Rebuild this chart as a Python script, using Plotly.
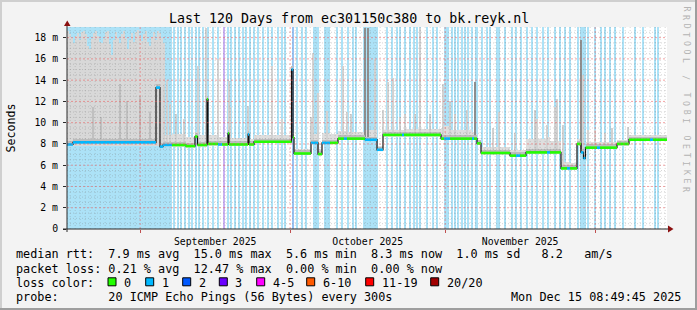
import plotly.graph_objects as go
from datetime import datetime, timedelta

# ---------------- data ----------------
END = datetime(2025, 12, 15, 8, 49, 45)
START = END - timedelta(days=120)
SPAN_DAYS = 120

# median rtt (ms) as step segments: start day (from START), value, loss count
med_start = [0.0, 1.2, 17.8, 18.6, 19.2, 21.0, 23.8, 25.6, 26.1, 28.0, 28.2, 30.2, 31.0, 32.2, 32.4,
             36.2, 36.4, 37.4, 44.9, 45.2, 45.4, 48.8, 50.2, 51.0, 52.6, 54.2, 55.4, 56.0, 59.6, 62.0,
             63.2, 67.0, 67.4, 74.8, 75.4, 76.6, 81.0, 81.4, 82.0, 82.8, 88.6, 89.8, 90.6, 91.8, 96.0,
             96.6, 98.8, 100.0, 100.6, 102.0, 102.8, 103.3, 103.7, 106.0, 106.6, 110.0, 112.4, 116.6, 117.2]
med_value = [7.95, 8.15, 13.3, 7.75, 7.9, 7.9, 7.8, 8.7, 7.9, 12.2, 8.0, 7.95, 7.95, 9.0, 7.95,
             8.9, 7.95, 8.2, 15.0, 8.6, 7.1, 8.1, 7.05, 8.1, 8.1, 8.5, 8.5, 8.5, 8.4, 7.45,
             8.85, 8.85, 8.85, 8.5, 8.5, 8.5, 8.5, 8.5, 8.05, 7.15, 6.9, 6.9, 6.9, 7.2, 7.2,
             7.2, 5.7, 5.7, 5.7, 8.0, 7.2, 6.65, 7.65, 7.65, 7.65, 8.0, 8.4, 8.4, 8.4]
med_loss = [1, 1, 1, 1, 1, 0, 0, 0, 0, 0, 0, 1, 0, 0, 0,
            1, 0, 0, 1, 0, 0, 1, 0, 1, 0, 0, 1, 0, 1, 1,
            0, 1, 0, 0, 1, 0, 1, 0, 0, 0, 0, 1, 0, 0, 1,
            0, 0, 1, 0, 0, 1, 1, 0, 1, 0, 0, 0, 1, 0]
# upper edge of the smoke haze around the median, per segment (ms)
smoke_top = [8.8, 9.0, 13.6, 8.6, 8.8, 8.9, 8.7, 9.1, 8.8, 12.4, 8.8, 8.7, 8.7, 9.3, 8.6,
             9.2, 8.5, 8.8, 15.2, 9.0, 7.5, 8.9, 7.5, 9.0, 8.9, 9.2, 9.2, 9.1, 9.3, 7.8,
             9.3, 9.3, 9.4, 9.5, 9.7, 9.3, 9.1, 8.9, 8.4, 7.7, 7.4, 7.4, 7.4, 8.5, 8.7,
             8.3, 6.3, 6.3, 6.2, 8.5, 7.9, 7.4, 8.2, 8.2, 8.2, 8.4, 8.8, 8.8, 8.8]

# heavy smoke in the first weeks: top of smoke (ms) every 0.4 day from day 0
heavy_smoke_step = 0.4
heavy_smoke_base = 7.8
heavy_smoke_top = [18.6, 18.3, 18.0, 17.5, 18.2, 18.4, 17.8, 18.5, 18.6, 18.3, 17.2, 16.9, 17.9, 18.4,
                   18.6, 18.2, 17.6, 17.5, 17.9, 18.5, 18.6, 17.4, 16.4, 17.8, 18.5, 18.0, 17.5, 18.3,
                   18.6, 18.0, 16.9, 17.8, 18.4, 17.6, 18.5, 18.7, 18.2, 17.7, 18.3, 18.6, 17.6, 17.2,
                   18.1, 18.5, 17.8, 18.6, 18.4, 18.0, 17.5]

# individual smoke spikes: day, top (ms), shade (0 light, 1 mid, 2 dark)
spike_day = [5.2, 6.8, 10.6, 12.0, 14.6, 16.6, 19.4, 20.0, 20.6, 21.8, 23.4, 26.2, 27.8, 30.2, 32.4,
             32.6, 36.2, 41.0, 43.0, 48.8, 49.2, 50.2, 52.0, 55.2, 56.0, 56.8, 59.6, 60.2, 61.6,
             63.2, 64.2, 65.2, 66.6, 67.6, 69.6, 70.6, 72.6, 75.2, 76.6, 77.6, 80.0, 81.6, 85.2,
             86.4, 89.6, 93.6, 94.0, 96.0, 97.6, 98.0, 99.2, 102.8, 103.2, 104.2, 105.6, 107.6,
             109.0, 112.2]
spike_top = [11.5, 10.5, 13.6, 12.0, 12.5, 11.0, 13.5, 14.0, 11.8, 10.8, 10.3, 15.3, 18.9, 16.0, 13.9,
             11.5, 11.6, 15.3, 10.3, 10.5, 16.6, 12.8, 11.1, 15.3, 11.0, 10.8, 18.9, 18.9, 16.0,
             11.2, 13.8, 14.2, 10.5, 10.8, 10.8, 18.9, 10.8, 13.6, 12.0, 10.8, 11.2, 13.8, 9.5,
             11.0, 9.0, 11.2, 10.3, 9.8, 11.5, 12.2, 9.8, 17.8, 14.5, 9.3, 9.3, 9.0,
             9.5, 9.6]
spike_shade = [1, 1, 1, 1, 1, 1, 0, 0, 0, 0, 0, 0, 0, 0, 0,
               0, 0, 0, 0, 0, 0, 0, 0, 0, 0, 0, 2, 2, 0,
               0, 0, 0, 0, 0, 0, 0, 0, 0, 0, 0, 0, 2, 0,
               0, 0, 0, 0, 0, 0, 0, 0, 2, 0, 0, 0, 0,
               0, 0]

# packet loss periods: centre day, duration (days), loss level
loss_day = [10.5, 21.4, 22.2, 22.8, 23.6, 24.4, 25.0, 25.8, 26.4, 27.2, 28.2, 29.2, 30.2, 31.4, 32.2,
            32.8, 33.6, 34.4, 35.2, 35.8, 36.6, 37.4, 38.2, 39.2, 40.2, 41.0, 42.2, 43.0, 43.6, 45.2,
            46.0, 47.0, 47.8, 49.7, 52.0, 54.0, 55.0, 56.2, 57.2, 57.8, 60.7, 64.0, 65.0, 66.0, 66.6,
            67.6, 68.6, 69.4, 70.0, 70.6, 72.0, 73.2, 74.0, 75.9, 77.0, 77.6, 78.2, 79.0, 79.6, 80.2,
            81.0, 81.9, 83.0, 84.0, 84.6, 86.0, 86.4, 87.6, 89.0, 89.8, 90.8, 92.0, 93.0, 94.0, 95.2,
            96.2, 97.6, 98.6, 99.6, 100.6, 102.2, 102.8, 103.2, 103.6, 104.2, 105.6, 106.8, 107.6,
            108.6, 109.6, 111.2, 113.6, 115.2, 117.6, 118.2]
loss_len = [21.0] + [0.2] * 32 + [1.2, 1.2] + [0.2] * 5 + [3.0] + [0.2] * 12 + [1.0] + [0.2] * 7 + [0.6] + [0.2] * 33
loss_level = [1] * len(loss_day)
loss_level[13] = 3   # day 31.4
loss_level[29] = 2   # day 45.2

# legend / statistics text
title_text = "Last 120 Days from ec301150c380 to bk.reyk.nl"
stat_lines = [
    "median rtt:  7.9 ms avg  15.0 ms max  5.6 ms min  8.3 ms now  1.0 ms sd   8.2   am/s",
    "packet loss: 0.21 % avg  12.47 % max  0.00 % min  0.00 % now",
    "loss color:",
    "probe:       20 ICMP Echo Pings (56 Bytes) every 300s",
]
loss_legend_labels = ["0", "1", "2", "3", "4-5", "6-10", "11-19", "20/20"]
loss_legend_colors = ["#22ff00", "#00b8ff", "#0059ff", "#6a00ff", "#ff00ff", "#ff5a00", "#ff0000", "#a10000"]
timestamp_text = "Mon Dec 15 08:49:45 2025"
watermark_text = "RRDTOOL / TOBI OETIKER"
y_tick_vals = [0, 2, 4, 6, 8, 10, 12, 14, 16, 18]
y_tick_text = ["0", "2 m", "4 m", "6 m", "8 m", "10 m", "12 m", "14 m", "16 m", "18 m"]
Y_MAX = 19.0

# ---------------- style ----------------
W, H = 697, 310
L, R, T, B = 67, 667, 27, 229       # plot area in pixels
MONO = "DejaVu Sans Mono"
MS_DAY = 86400000
LOSS_BG = {1: "#ace2f7", 2: "#98c2f3", 3: "#cbb0f3"}
LINE_COL = {0: "#22ff00", 1: "#00b8ff", 2: "#0059ff"}
SPIKE_COL = {0: "#d2d2d2", 1: "#c0c0c0", 2: "#8f8f8f"}


def t(d):
    return START + timedelta(days=d)


def px(x):
    return (x - L) / (R - L)


def py(y):
    return (B - y) / (B - T)


def med_at(d):
    v = med_value[0]
    for s, m in zip(med_start, med_value):
        if s <= d:
            v = m
    return v


fig = go.Figure()

# loss backgrounds
fig.add_trace(go.Bar(
    x=[t(d) for d in loss_day], y=[Y_MAX] * len(loss_day), base=0,
    width=[w * MS_DAY for w in loss_len],
    marker=dict(color=[LOSS_BG[k] for k in loss_level], line=dict(width=0)),
    hoverinfo="skip"))

# smoke haze
seg_end = med_start[1:] + [SPAN_DAYS]
fig.add_trace(go.Bar(
    x=[t((a + b) / 2) for a, b in zip(med_start, seg_end)],
    width=[(b - a) * MS_DAY for a, b in zip(med_start, seg_end)],
    base=[m - 0.15 for m in med_value],
    y=[top - (m - 0.15) for top, m in zip(smoke_top, med_value)],
    marker=dict(color="#dedede", line=dict(width=0)), hoverinfo="skip"))

# heavy smoke
hs_x = [t(i * heavy_smoke_step + heavy_smoke_step / 2) for i in range(len(heavy_smoke_top))]
fig.add_trace(go.Bar(
    x=hs_x, width=heavy_smoke_step * MS_DAY, base=heavy_smoke_base,
    y=[v - heavy_smoke_base for v in heavy_smoke_top],
    marker=dict(color="#d8d8d8", line=dict(width=0)), hoverinfo="skip"))

# spikes
fig.add_trace(go.Bar(
    x=[t(d) for d in spike_day], width=0.2 * MS_DAY,
    base=[med_at(d) for d in spike_day],
    y=[top - med_at(d) for d, top in zip(spike_day, spike_top)],
    marker=dict(color=[SPIKE_COL[s] for s in spike_shade], line=dict(width=0)), hoverinfo="skip"))

# darker smoke core close to the median
fig.add_trace(go.Bar(
    x=[t((a + b) / 2) for a, b in zip(med_start, seg_end)],
    width=[(b - a) * MS_DAY for a, b in zip(med_start, seg_end)],
    base=[m for m in med_value], y=[0.3] * len(med_value),
    marker=dict(color="#bdbdbd", line=dict(width=0)), hoverinfo="skip"))

# median black step line
fig.add_trace(go.Scatter(
    x=[t(s) for s in med_start] + [t(SPAN_DAYS)], y=med_value + [med_value[-1]],
    mode="lines", line=dict(color="#111111", width=1.2, shape="hv"), hoverinfo="skip"))

# coloured median by loss
for k, col in LINE_COL.items():
    xs, ys = [], []
    for a, b, m, l in zip(med_start, seg_end, med_value, med_loss):
        if l == k:
            xs += [t(a), t(b), None]
            ys += [m, m, None]
    if xs:
        fig.add_trace(go.Scatter(x=xs, y=ys, mode="lines", line=dict(color=col, width=2.6),
                                 hoverinfo="skip", connectgaps=False))

shapes = []
# grid (drawn above the data like rrdtool)
GRID_MINOR = "rgba(120,120,120,0.30)"
GRID_MAJOR = "rgba(235,90,90,0.55)"
v = 0.5
while v < Y_MAX:
    if abs(v / 2 - round(v / 2)) > 1e-6:
        shapes.append(dict(type="line", xref="paper", yref="y", x0=0, x1=1, y0=v, y1=v, layer="above",
                           line=dict(color=GRID_MINOR, width=1, dash="1px,2px")))
    v += 0.5
for v in y_tick_vals[1:]:
    shapes.append(dict(type="line", xref="paper", yref="y", x0=0, x1=1, y0=v, y1=v, layer="above",
                       line=dict(color=GRID_MAJOR, width=1, dash="2px,2px")))
day = datetime(START.year, START.month, START.day) + timedelta(days=1)
while day < END:
    major = day.day == 1
    shapes.append(dict(type="line", xref="x", yref="paper", x0=day, x1=day, y0=0, y1=1, layer="above",
                       line=dict(color=GRID_MAJOR if major else GRID_MINOR, width=1,
                                 dash="2px,2px" if major else "1px,2px")))
    day += timedelta(days=1)

AX = "#2a2a2a"
ARROW = "#8b1010"
# axes with arrows
shapes.append(dict(type="line", xref="paper", yref="paper", x0=px(67), x1=px(67), y0=py(232), y1=py(25),
                   line=dict(color=AX, width=1)))
shapes.append(dict(type="line", xref="paper", yref="paper", x0=px(63), x1=px(669), y0=py(229), y1=py(229),
                   line=dict(color=AX, width=1)))
shapes.append(dict(type="path", xref="paper", yref="paper",
                   path=f"M {px(64)},{py(26)} L {px(70.5)},{py(26)} L {px(67.25)},{py(20.5)} Z",
                   fillcolor=ARROW, line=dict(width=0)))
shapes.append(dict(type="path", xref="paper", yref="paper",
                   path=f"M {px(668)},{py(225.5)} L {px(668)},{py(232.5)} L {px(673.5)},{py(229)} Z",
                   fillcolor=ARROW, line=dict(width=0)))
# 3D frame of the image
shapes.append(dict(type="line", xref="paper", yref="paper", x0=px(0), x1=px(697), y0=py(1), y1=py(1),
                   line=dict(color="#cfcfcf", width=2)))
shapes.append(dict(type="line", xref="paper", yref="paper", x0=px(1), x1=px(1), y0=py(0), y1=py(310),
                   line=dict(color="#cfcfcf", width=2)))
shapes.append(dict(type="line", xref="paper", yref="paper", x0=px(0), x1=px(697), y0=py(309), y1=py(309),
                   line=dict(color="#9e9e9e", width=2)))
shapes.append(dict(type="line", xref="paper", yref="paper", x0=px(696), x1=px(696), y0=py(0), y1=py(310),
                   line=dict(color="#9e9e9e", width=2)))

annotations = []


def txt(s, x, y, size=11.8, anchor="left", color="#000000", angle=0, yanchor="middle"):
    annotations.append(dict(text=s.replace(" ", "\u00a0"), xref="paper", yref="paper", x=px(x), y=py(y),
                            xanchor=anchor, yanchor=yanchor, showarrow=False, textangle=angle,
                            borderpad=0, borderwidth=0,
                            font=dict(family=MONO, size=size, color=color)))


txt(title_text, 348.5, 18.5, size=13.3, anchor="center")
for i, line in enumerate(stat_lines):
    txt(line, 16, 254.5 + 14 * i)
txt(timestamp_text, 680.5, 296.5, anchor="right")
txt("Seconds", 10.5, 128, size=11.6, anchor="center", angle=-90)
# vertical, letter-spaced watermark
for i, ch in enumerate(watermark_text):
    if ch != " ":
        txt(ch, 686.5, 9 + 8.6 * i, size=8.2, anchor="center", color="#b4b4b4", angle=90)

sq_left = [108, 145.7, 182.7, 219.3, 256.7, 306.7, 365.7, 430.7]
for lab, col, x0 in zip(loss_legend_labels, loss_legend_colors, sq_left):
    shapes.append(dict(type="rect", xref="paper", yref="paper", x0=px(x0), x1=px(x0 + 8),
                       y0=py(277.8), y1=py(285.8), fillcolor=col, line=dict(color="#000000", width=1)))
    txt(lab, x0 + 16, 282.5)

fig.update_layout(
    width=W, height=H, autosize=False,
    margin=dict(l=L, r=W - R, t=T, b=H - B, pad=0),
    paper_bgcolor="#f3f3f3", plot_bgcolor="#ffffff",
    barmode="overlay", bargap=0, showlegend=False,
    shapes=shapes, annotations=annotations,
    xaxis=dict(type="date", range=[START, END], showgrid=False, zeroline=False, showline=False,
               dtick="M1", tickformat="%B %Y", ticklabelmode="period",
               ticks="outside", ticklen=3, tickcolor="#c05050",
               tickfont=dict(family=MONO, size=9.8, color="#000000"), fixedrange=True),
    yaxis=dict(range=[0, Y_MAX], showgrid=False, zeroline=False, showline=False,
               tickvals=y_tick_vals, ticktext=y_tick_text, ticks="outside", ticklen=3, tickcolor=AX,
               ticklabelstandoff=3,
               tickfont=dict(family=MONO, size=9.8, color="#000000"), fixedrange=True),
    hovermode=False,
)

fig.write_html("out.html")
